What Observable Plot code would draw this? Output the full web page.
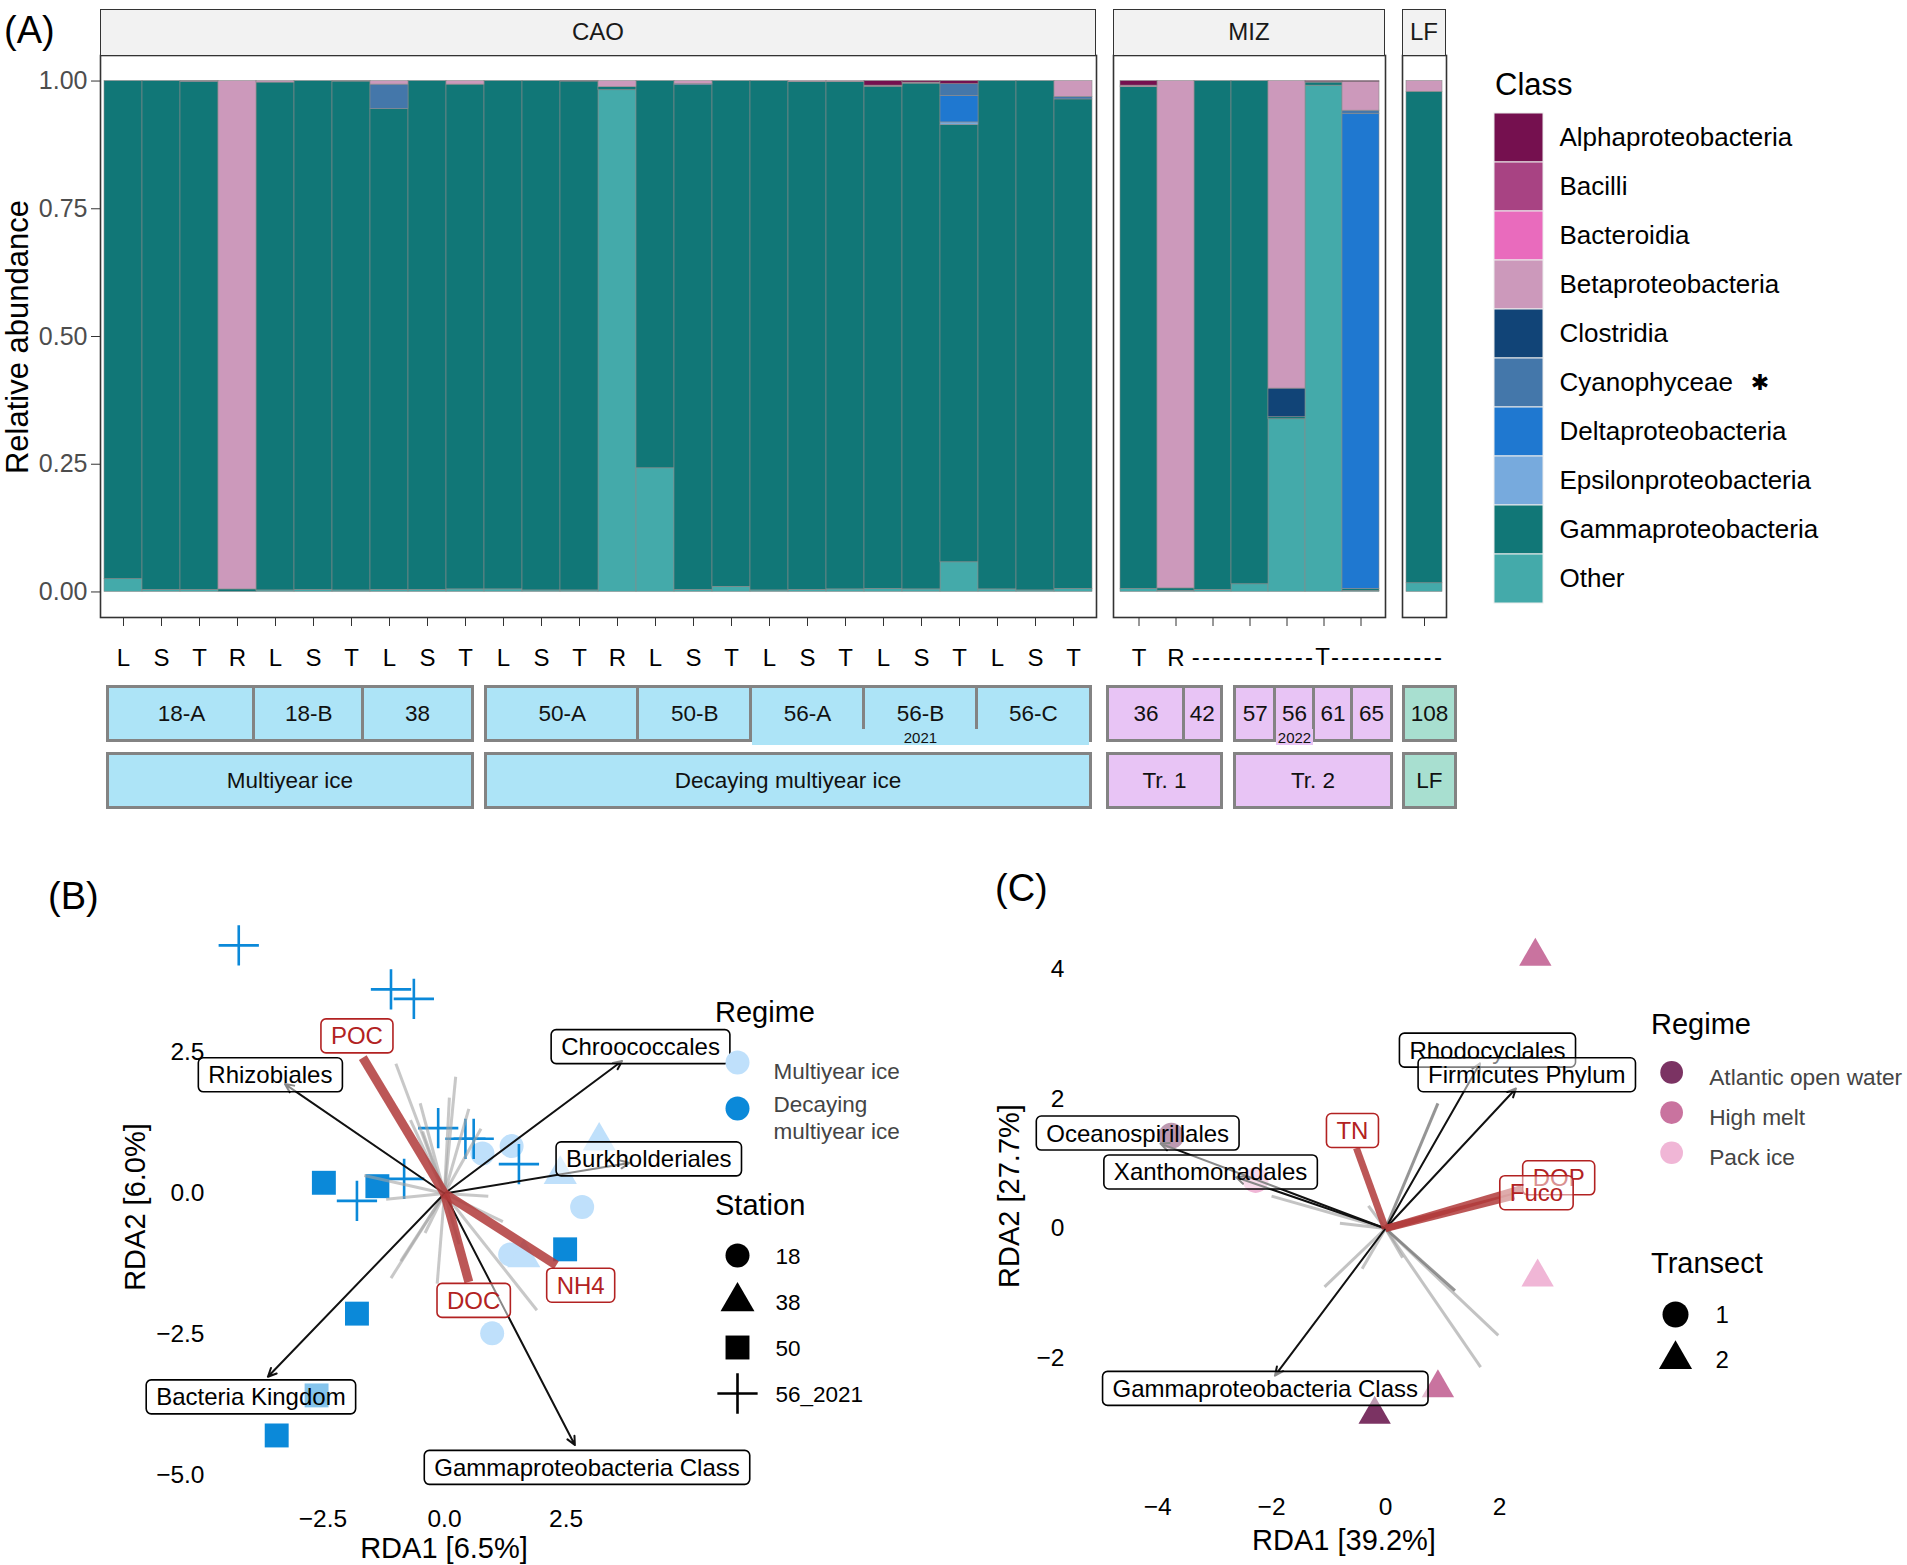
<!DOCTYPE html>
<html>
<head>
<meta charset="utf-8">
<script src="https://cdn.jsdelivr.net/npm/d3@7"></script>
<script src="https://cdn.jsdelivr.net/npm/@observablehq/plot@0.6"></script>
<style>
html,body{margin:0;padding:0;background:#fff;}
#root{position:relative;width:1907px;height:1565px;overflow:hidden;background:#fff;font-family:"Liberation Sans",Arial,Helvetica,sans-serif;color:#000;}
.t{position:absolute;white-space:pre;line-height:1;}
.strip{position:absolute;box-sizing:border-box;background:#f2f2f2;border:1.6px solid #333;display:flex;align-items:center;justify-content:center;font-size:24px;color:#1a1a1a;}
.grp{position:absolute;box-sizing:border-box;border:3px solid #838383;}
.cell{position:absolute;top:0;bottom:0;box-sizing:border-box;display:flex;align-items:center;justify-content:center;font-size:22.5px;color:#111;}
.yr{position:absolute;display:flex;align-items:center;justify-content:center;font-size:15px;color:#111;}
</style>
</head>
<body>
<div id="root"></div>
<script>
// ---------------- DATA ----------------
const classes = ["Alphaproteobacteria","Bacilli","Bacteroidia","Betaproteobacteria","Clostridia","Cyanophyceae","Deltaproteobacteria","Epsilonproteobacteria","Gammaproteobacteria","Other"];
const classColors = ["#75104f","#a84383","#e96bbd","#cc99bb","#114477","#4477aa","#1f78d0","#77aadd","#117777","#44aaaa"];

const caoSamples = ["18-A_L","18-A_S","18-A_T","18-A_R","18-B_L","18-B_S","18-B_T","38_L","38_S","38_T","50-A_L","50-A_S","50-A_T","50-A_R","50-B_L","50-B_S","50-B_T","56-A_L","56-A_S","56-A_T","56-B_L","56-B_S","56-B_T","56-C_L","56-C_S","56-C_T"];
const mizSamples = ["36_T","36_R","42_T","57_T","56_T","61_T","65_T"];
const lfSamples = ["108_T"];

const caoOther   = [0.025,0.004,0.004,0,0.003,0.004,0.003,0.004,0.004,0.005,0.005,0.003,0.003,0.982,0.242,0.004,0.010,0.003,0.004,0.005,0.006,0.005,0.058,0.005,0.003,0.006];
const caoGamma   = [0.975,0.996,0.994,0.005,0.994,0.996,0.996,0.941,0.996,0.988,0.995,0.997,0.996,0.006,0.758,0.988,0.990,0.997,0.994,0.993,0.983,0.990,0.856,0.995,0.997,0.958];
const caoEpsilon = [0,0,0,0,0,0,0,0,0,0,0,0,0,0,0,0,0,0,0,0,0,0,0.005,0,0,0];
const caoDelta   = [0,0,0,0,0,0,0,0,0,0,0,0,0,0,0,0.002,0,0,0,0,0,0,0.052,0,0,0];
const caoCyano   = [0,0,0.001,0,0,0,0,0.048,0,0,0,0,0,0,0,0,0,0,0,0,0,0,0.023,0,0,0.005];
const caoBeta    = [0,0,0.001,0.995,0.003,0,0.001,0.007,0,0.007,0,0,0,0.012,0,0.006,0,0,0.002,0.002,0.002,0.002,0,0,0,0.031];
const caoAlpha   = [0,0,0,0,0,0,0,0,0,0,0,0,0.001,0,0,0,0,0,0,0,0.009,0.003,0.006,0,0,0];

const mizOther      = [0.006,0.002,0.004,0.015,0.338,0.991,0.002];
const mizGamma      = [0.982,0.005,0.996,0.985,0.004,0.006,0.004];
const mizDelta      = [0,0,0,0,0,0,0.930];
const mizCyano      = [0,0,0,0,0,0,0.006];
const mizClostridia = [0,0,0,0,0.056,0,0];
const mizBeta       = [0.003,0.993,0,0,0.602,0.001,0.056];
const mizAlpha      = [0.009,0,0,0,0,0.002,0.002];

const lfOther = [0.017];
const lfGamma = [0.962];
const lfBeta  = [0.021];

const yTicksA = [0, 0.25, 0.5, 0.75, 1];

const stationLabels = ["18-A","18-B","38","50-A","50-B","56-A","56-B","56-C","36","42","57","56","61","65","108"];
const stationBars   = [4,3,3,4,3,3,3,3,2,1,1,1,1,1,1];
const stationRegime = ["Multiyear ice","Multiyear ice","Multiyear ice","Decaying multiyear ice","Decaying multiyear ice","Decaying multiyear ice","Decaying multiyear ice","Decaying multiyear ice","Tr. 1","Tr. 1","Tr. 2","Tr. 2","Tr. 2","Tr. 2","LF"];
const stationYear   = ["","","","","","2021","2021","2021","","","","2022","","",""];
const regimeLabels  = ["Multiyear ice","Decaying multiyear ice","Tr. 1","Tr. 2","LF"];

// Panel B
const bRegimes = ["Multiyear ice","Decaying multiyear ice"];
const bStations = ["18","38","50","56_2021"];
const bPtX = [-4.23,-1.10,-0.63,-0.13,0.43,0.60,1.53,-0.83,-1.80, -2.48,-1.38,2.48,-1.80,-2.63,-3.45, 0.78,1.38,2.83,1.35,0.98, 3.18,2.38,1.63];
const bPtY = [4.40,3.62,3.45,1.16,0.97,0.97,0.52,0.26,-0.13, 0.19,0.13,-0.99,-2.13,-3.58,-4.29, 0.71,0.84,-0.24,-1.08,-2.48, 0.93,0.34,-1.14];
const bPtStation = ["56_2021","56_2021","56_2021","56_2021","56_2021","56_2021","56_2021","56_2021","56_2021","50","50","50","50","50","50","18","18","18","18","18","38","38","38"];
const bPtRegime = ["Decaying multiyear ice","Decaying multiyear ice","Decaying multiyear ice","Decaying multiyear ice","Decaying multiyear ice","Decaying multiyear ice","Decaying multiyear ice","Decaying multiyear ice","Decaying multiyear ice","Decaying multiyear ice","Decaying multiyear ice","Decaying multiyear ice","Decaying multiyear ice","Decaying multiyear ice","Decaying multiyear ice","Multiyear ice","Multiyear ice","Multiyear ice","Multiyear ice","Multiyear ice","Multiyear ice","Multiyear ice","Multiyear ice"];
const bSpName = ["Rhizobiales","Chroococcales","Burkholderiales","Bacteria Kingdom","Gammaproteobacteria Class"];
const bSpTipX = [-3.28, 3.65, 3.80, -3.63, 2.68];
const bSpTipY = [1.94, 2.35, 0.54, -3.25, -4.46];
const bSpLabX = [-3.58, 4.03, 4.20, -3.98, 2.93];
const bSpLabY = [2.09, 2.59, 0.60, -3.62, -4.87];
const bEnvName = ["POC","DOC","NH4"];
const bEnvTipX = [-1.68, 0.50, 2.30];
const bEnvTipY = [2.41, -1.57, -1.27];
const bEnvLabX = [-1.80, 0.60, 2.80];
const bEnvLabY = [2.78, -1.91, -1.64];
const bGrayX = [-1.00,0.23,0.10,-0.50,0.75,-1.65,0.90,-1.10,-0.15,1.90,-0.90,-0.45,0.50,-1.20,0.30,1.20,-0.40,-0.70];
const bGrayY = [2.30,2.07,1.70,1.60,1.15,0.32,-0.05,-1.50,-1.60,-2.07,-1.20,1.10,1.50,-0.10,-0.90,-0.50,-0.70,1.30];
const bXTicks = [-2.5, 0, 2.5];
const bYTicks = [-5, -2.5, 0, 2.5];

// Panel C
const cRegimes = ["Atlantic open water","High melt","Pack ice"];
const cTransects = ["1","2"];
const cPtX = [2.63, 2.67, 0.92, -0.19, -3.76, -2.28];
const cPtY = [4.20, -0.75, -2.46, -2.87, 1.43, 0.75];
const cPtTransect = ["2","2","2","2","1","1"];
const cPtRegime = ["High melt","Pack ice","High melt","Atlantic open water","Atlantic open water","Pack ice"];
const cSpName = ["Oceanospirillales","Xanthomonadales","Rhodocyclales","Firmicutes Phylum","Gammaproteobacteria Class"];
const cSpTipX = [-3.95, -2.62, 1.66, 2.29, -1.94];
const cSpTipY = [1.31, 0.79, 2.55, 2.16, -2.27];
const cSpLabX = [-4.35, -3.07, 1.79, 2.48, -2.11];
const cSpLabY = [1.46, 0.86, 2.74, 2.36, -2.48];
const cEnvName = ["TN","DOP","Fuco"];
const cEnvTipX = [-0.51, 2.40, 2.26];
const cEnvTipY = [1.24, 0.62, 0.50];
const cEnvLabX = [-0.58, 3.04, 2.65];
const cEnvLabY = [1.50, 0.77, 0.54];
const cGrayX = [-0.80,-0.41,-1.07,1.67,1.98,0.30,-0.30,-2.00];
const cGrayY = [0.08,-0.62,-0.90,-2.14,-1.65,-0.45,0.35,0.50];
const cDarkX = [0.92, 1.22];
const cDarkY = [1.93, -0.96];
const cXTicks = [-4, -2, 0, 2];
const cYTicks = [-2, 0, 2, 4];

// ---------------- STYLE / LAYOUT ----------------
const FONT = '"Liberation Sans", Arial, Helvetica, sans-serif';
const plotStyle = {fontFamily: FONT, fontSize: "24px", background: "transparent", overflow: "visible", color: "#333"};
const stackOrder = classes.slice().reverse();
const regimeFill = {"Multiyear ice": "#ade4f7", "Decaying multiyear ice": "#ade4f7", "Tr. 1": "#e8c4f5", "Tr. 2": "#e8c4f5", "LF": "#a8dfd0"};
const groupAdjust = {"Multiyear ice": [2, -10], "Decaying multiyear ice": [0, 0], "Tr. 1": [-14, -8], "Tr. 2": [2, 14], "LF": [-4, 15]};
const bColors = ["#bfe0fb", "#0b89d9"];
const cColors = ["#7b3363", "#c9739f", "#f0b6d6"];
const PLUS_R = 13;

const root = document.getElementById("root");
function place(node, left, top) {
  const w = document.createElement("div");
  w.style.position = "absolute"; w.style.left = left + "px"; w.style.top = top + "px";
  w.appendChild(node); root.appendChild(w); return w;
}
function textBase(str, left, baseline, size, opts = {}) {
  const d = document.createElement("div"); d.className = "t"; d.textContent = str;
  d.style.left = left + "px"; d.style.top = (baseline - 0.8465 * size) + "px"; d.style.fontSize = size + "px";
  if (opts.color) d.style.color = opts.color;
  root.appendChild(d); return d;
}
function textCenter(str, cx, cy, size, opts = {}) {
  const d = document.createElement("div"); d.className = "t"; d.textContent = str;
  d.style.left = cx + "px"; d.style.top = cy + "px"; d.style.fontSize = size + "px";
  d.style.transform = "translate(-50%,-50%)" + (opts.rotate ? ` rotate(${opts.rotate}deg)` : "");
  if (opts.color) d.style.color = opts.color;
  if (opts.family) d.style.fontFamily = opts.family;
  if (opts.spacing) d.style.letterSpacing = opts.spacing + "px";
  root.appendChild(d); return d;
}

function longRows(samples, series) {
  const out = [];
  for (const [cls, vals] of series) vals.forEach((v, i) => { if (v > 0) out.push({sample: samples[i], cls, value: v}); });
  return out;
}
const caoRows = longRows(caoSamples, [["Other", caoOther], ["Gammaproteobacteria", caoGamma], ["Epsilonproteobacteria", caoEpsilon], ["Deltaproteobacteria", caoDelta], ["Cyanophyceae", caoCyano], ["Betaproteobacteria", caoBeta], ["Alphaproteobacteria", caoAlpha]]);
const mizRows = longRows(mizSamples, [["Other", mizOther], ["Gammaproteobacteria", mizGamma], ["Deltaproteobacteria", mizDelta], ["Cyanophyceae", mizCyano], ["Clostridia", mizClostridia], ["Betaproteobacteria", mizBeta], ["Alphaproteobacteria", mizAlpha]]);
const lfRows = longRows(lfSamples, [["Other", lfOther], ["Gammaproteobacteria", lfGamma], ["Betaproteobacteria", lfBeta]]);

// ---------------- PANEL A ----------------
function facetChart(samples, rows, plotWidth, showY, tickLabel) {
  const ml = showY ? 100 : 0;
  return Plot.plot({
    width: plotWidth + ml, height: 640,
    marginLeft: ml, marginRight: 0, marginTop: 0, marginBottom: 78,
    style: plotStyle,
    x: {type: "band", domain: samples, paddingInner: 0, paddingOuter: 0.1},
    y: {domain: [-0.05, 1.05], axis: showY ? undefined : null},
    color: {domain: classes, range: classColors},
    marks: [
      Plot.barY(rows, Plot.stackY({x: "sample", y: "value", fill: "cls", order: stackOrder, stroke: "#8a8a8a", strokeWidth: 0.6})),
      Plot.frame({stroke: "#333", strokeWidth: 1.6}),
      showY ? Plot.axisY({ticks: yTicksA, tickFormat: d3.format(".2f"), tickSize: 9, tickPadding: 4, fontSize: 25, fill: "#4d4d4d", stroke: "#333", label: null}) : null,
      Plot.axisX({tickSize: 9, tickPadding: 22, tickFormat: tickLabel, fontSize: 24, fill: "#000", stroke: "#333", label: null})
    ]
  });
}
const caoChart = facetChart(caoSamples, caoRows, 996, true, d => d.split("_")[1]);
const mizChart = facetChart(mizSamples, mizRows, 272, false, d => (mizSamples.indexOf(d) < 2 ? d.split("_")[1] : ""));
const lfChart = facetChart(lfSamples, lfRows, 44, false, () => "");
const facets = [
  {samples: caoSamples, chart: caoChart, left: 0},
  {samples: mizSamples, chart: mizChart, left: 1113},
  {samples: lfSamples, chart: lfChart, left: 1402}
];
facets.forEach(f => place(f.chart, f.left, 55));

function strip(label, left, right) {
  const d = document.createElement("div"); d.className = "strip"; d.textContent = label;
  d.style.left = left + "px"; d.style.top = "8.5px"; d.style.width = (right - left) + "px"; d.style.height = "47px";
  root.appendChild(d);
}
strip("CAO", 100, 1096); strip("MIZ", 1113, 1385); strip("LF", 1402, 1446);

textBase("(A)", 4, 43.5, 38);
textCenter("Relative abundance", 17, 337, 31, {rotate: -90});

// legend A
textBase("Class", 1495, 95.5, 31);
const legendA = Plot.plot({
  width: 413, height: 492, margin: 0, style: plotStyle,
  x: {type: "band", domain: ["k"], range: [0, 49], padding: 0, axis: null},
  y: {type: "band", domain: classes, range: [0, 492], padding: 0, axis: null},
  color: {domain: classes, range: classColors},
  marks: [
    Plot.cell(classes, {x: () => "k", y: d => d, fill: d => d, stroke: "#ececec", strokeWidth: 1}),
    Plot.text(classes, {x: () => "k", y: d => d, text: d => d, dx: 40.5, textAnchor: "start", fontSize: 26, fill: "#000"})
  ]
});
place(legendA, 1494, 112);
textCenter("\u2731", 1760, 112 + 492 / 10 * 5.5, 22, {family: "DejaVu Sans"});

// annotation rows under panel A
function barExtent(sample) {
  for (const f of facets) {
    if (f.samples.includes(sample)) {
      const sc = f.chart.scale("x");
      const x0 = f.left + sc.apply(sample);
      return [x0, x0 + sc.bandwidth];
    }
  }
}
const allSamples = [...caoSamples, ...mizSamples, ...lfSamples];
let kk = 0;
const stations = stationLabels.map((lab, i) => {
  const s = allSamples.slice(kk, kk + stationBars[i]); kk += stationBars[i];
  return {lab, n: stationBars[i], regime: stationRegime[i], year: stationYear[i], x0: barExtent(s[0])[0], x1: barExtent(s[s.length - 1])[1]};
});
regimeLabels.forEach(r => {
  const ss = stations.filter(d => d.regime === r);
  const [a, b] = groupAdjust[r];
  const x0 = d3.min(ss, d => d.x0) + a, x1 = d3.max(ss, d => d.x1) + b;
  const g = document.createElement("div"); g.className = "grp";
  g.style.left = x0 + "px"; g.style.top = "685px"; g.style.width = (x1 - x0) + "px"; g.style.height = "57px";
  g.style.background = regimeFill[r];
  root.appendChild(g);
  const innerW = x1 - x0 - 6;
  const total = d3.sum(ss, d => d.n);
  let cum = 0;
  const pos = [];
  ss.forEach((s, i) => {
    const c = document.createElement("div"); c.className = "cell"; c.textContent = s.lab;
    const l = cum / total * innerW, w = s.n / total * innerW;
    pos.push([l, l + w]);
    c.style.left = (i ? l - 1.5 : l) + "px"; c.style.width = (i ? w + 1.5 : w) + "px";
    if (i) c.style.borderLeft = "3px solid #838383";
    g.appendChild(c);
    cum += s.n;
  });
  let i = 0;
  while (i < ss.length) {
    if (ss[i].year) {
      let j = i; while (j + 1 < ss.length && ss[j + 1].year === ss[i].year) j++;
      const p = document.createElement("div"); p.className = "yr"; p.textContent = ss[i].year;
      const l = pos[i][0] + (i ? 1.5 : 0), rr = pos[j][1];
      p.style.left = l + "px"; p.style.width = (rr - l) + "px"; p.style.top = "41px"; p.style.height = "16px";
      p.style.background = regimeFill[r];
      g.appendChild(p);
      i = j + 1;
    } else i++;
  }
  const g2 = document.createElement("div"); g2.className = "grp";
  g2.style.left = x0 + "px"; g2.style.top = "752px"; g2.style.width = (x1 - x0) + "px"; g2.style.height = "57px";
  g2.style.background = regimeFill[r];
  const c2 = document.createElement("div"); c2.className = "cell"; c2.style.left = "0"; c2.style.right = "0"; c2.textContent = r;
  g2.appendChild(c2);
  root.appendChild(g2);
});
{
  const a = barExtent(mizSamples[2])[0], b = barExtent(lfSamples[0])[1];
  textCenter("------------T-----------", (a + b) / 2, 657, 24, {spacing: 2.3});
}

// ---------------- label boxes helper ----------------
function boxLabels(svg, names, stroke) {
  const texts = Array.from(svg.querySelectorAll("text")).filter(t => names.includes(t.textContent) && !t.closest('g[aria-label$="axis"]'));
  texts.forEach(t => {
    const b = t.getBBox();
    const r = document.createElementNS("http://www.w3.org/2000/svg", "rect");
    r.setAttribute("x", b.x - 10); r.setAttribute("y", b.y - 3.5);
    r.setAttribute("width", b.width + 20); r.setAttribute("height", b.height + 7);
    r.setAttribute("rx", 5); r.setAttribute("ry", 5);
    r.setAttribute("fill", "#ffffff"); r.setAttribute("fill-opacity", 0.5);
    r.setAttribute("stroke", stroke); r.setAttribute("stroke-width", 1.6);
    const tr = t.getAttribute("transform"); if (tr) r.setAttribute("transform", tr);
    t.parentNode.insertBefore(r, t);
  });
}
function zipPts(xs, ys, extra) { return xs.map((x, i) => Object.assign({x, y: ys[i]}, extra ? extra(i) : {})); }

// ---------------- PANEL B ----------------
const bPts = zipPts(bPtX, bPtY, i => ({station: bPtStation[i], regime: bPtRegime[i]}));
const bSp = bSpName.map((name, i) => ({name, tx: bSpTipX[i], ty: bSpTipY[i], lx: bSpLabX[i], ly: bSpLabY[i]}));
const bEnv = bEnvName.map((name, i) => ({name, tx: bEnvTipX[i], ty: bEnvTipY[i], lx: bEnvLabX[i], ly: bEnvLabY[i]}));
const bGray = zipPts(bGrayX, bGrayY);
const bUx = 48.64, bUy = 56.4, bX0 = 444, bY0 = 343;
const bChart = Plot.plot({
  width: 940, height: 715, marginLeft: 207, marginRight: 0, marginTop: 0, marginBottom: 59,
  style: plotStyle,
  x: {domain: [-6, 6], range: [bX0 - 6 * bUx, bX0 + 6 * bUx]},
  y: {domain: [-6, 6], range: [bY0 + 6 * bUy, bY0 - 6 * bUy]},
  color: {domain: bRegimes, range: bColors},
  marks: [
    Plot.dot(bPts.filter(d => d.station === "18"), {x: "x", y: "y", fill: "regime", r: 12, symbol: "circle"}),
    Plot.dot(bPts.filter(d => d.station === "38"), {x: "x", y: "y", fill: "regime", r: 12.3, symbol: "triangle"}),
    Plot.dot(bPts.filter(d => d.station === "50"), {x: "x", y: "y", fill: "regime", r: 13.5, symbol: "square"}),
    Plot.dot(bPts.filter(d => d.station === "56_2021"), {x: "x", y: "y", stroke: "regime", fill: "none", r: PLUS_R, symbol: "plus", strokeWidth: 2.6}),
    Plot.link(bGray, {x1: 0, y1: 0, x2: "x", y2: "y", stroke: "#a3a3a3", strokeOpacity: 0.6, strokeWidth: 3}),
    Plot.arrow(bSp, {x1: 0, y1: 0, x2: "tx", y2: "ty", stroke: "#111", strokeWidth: 2, headLength: 7, headAngle: 50}),
    Plot.link(bEnv, {x1: 0, y1: 0, x2: "tx", y2: "ty", stroke: "#b03a3a", strokeOpacity: 0.85, strokeWidth: 9}),
    Plot.text(bSp, {x: "lx", y: "ly", text: "name", fontSize: 24, fill: "#000"}),
    Plot.text(bEnv, {x: "lx", y: "ly", text: "name", fontSize: 24, fill: "#b22222"}),
    Plot.axisX({ticks: bXTicks, tickFormat: d3.format(".1f"), tickSize: 0, tickPadding: 3, fontSize: 24.5, fill: "#000", label: null}),
    Plot.axisY({ticks: bYTicks, tickFormat: d3.format(".1f"), tickSize: 0, tickPadding: 3, fontSize: 24.5, fill: "#000", label: null})
  ]
});
place(bChart, 0, 850);
boxLabels(bChart, bSpName, "#000");
boxLabels(bChart, bEnvName, "#b22222");
textBase("(B)", 48, 909.6, 38);
textCenter("RDA1 [6.5%]", 444, 1548, 29);
textCenter("RDA2 [6.0%]", 135, 1207, 29, {rotate: -90});

// ---------------- PANEL C ----------------
const cPts = zipPts(cPtX, cPtY, i => ({transect: cPtTransect[i], regime: cPtRegime[i]}));
const cSp = cSpName.map((name, i) => ({name, tx: cSpTipX[i], ty: cSpTipY[i], lx: cSpLabX[i], ly: cSpLabY[i]}));
const cEnv = cEnvName.map((name, i) => ({name, tx: cEnvTipX[i], ty: cEnvTipY[i], lx: cEnvLabX[i], ly: cEnvLabY[i]}));
const cGray = zipPts(cGrayX, cGrayY);
const cDark = zipPts(cDarkX, cDarkY);
const cUx = 56.97, cUy = 64.8, cX0 = 425, cY0 = 378;
const cChart = Plot.plot({
  width: 947, height: 715, marginLeft: 107, marginRight: 0, marginTop: 0, marginBottom: 71,
  style: plotStyle,
  x: {domain: [-6, 6], range: [cX0 - 6 * cUx, cX0 + 6 * cUx]},
  y: {domain: [-6, 6], range: [cY0 + 6 * cUy, cY0 - 6 * cUy]},
  color: {domain: cRegimes, range: cColors},
  marks: [
    Plot.dot(cPts.filter(d => d.transect === "1"), {x: "x", y: "y", fill: "regime", r: 13, symbol: "circle"}),
    Plot.dot(cPts.filter(d => d.transect === "2"), {x: "x", y: "y", fill: "regime", r: 12, symbol: "triangle"}),
    Plot.link(cGray, {x1: 0, y1: 0, x2: "x", y2: "y", stroke: "#a3a3a3", strokeOpacity: 0.65, strokeWidth: 3}),
    Plot.link(cDark, {x1: 0, y1: 0, x2: "x", y2: "y", stroke: "#7a7a7a", strokeOpacity: 0.8, strokeWidth: 3}),
    Plot.arrow(cSp, {x1: 0, y1: 0, x2: "tx", y2: "ty", stroke: "#111", strokeWidth: 2, headLength: 7, headAngle: 50}),
    Plot.link(cEnv, {x1: 0, y1: 0, x2: "tx", y2: "ty", stroke: "#b03a3a", strokeOpacity: 0.85, strokeWidth: 7}),
    Plot.text(cSp, {x: "lx", y: "ly", text: "name", fontSize: 24, fill: "#000"}),
    Plot.text(cEnv, {x: "lx", y: "ly", text: "name", fontSize: 24, fill: "#b22222"}),
    Plot.axisX({ticks: cXTicks, tickFormat: d3.format("d"), tickSize: 0, tickPadding: 3, fontSize: 24.5, fill: "#000", label: null}),
    Plot.axisY({ticks: cYTicks, tickFormat: d3.format("d"), tickSize: 0, tickPadding: 3, fontSize: 24.5, fill: "#000", label: null})
  ]
});
place(cChart, 960, 850);
boxLabels(cChart, cSpName, "#000");
boxLabels(cChart, cEnvName, "#b22222");
textBase("(C)", 995, 901, 38);
textCenter("RDA1 [39.2%]", 1344, 1540, 29);
textCenter("RDA2 [27.7%]", 1009, 1196, 29, {rotate: -90});

// ---------------- LEGENDS B / C ----------------
function keyPlot(labels, step, marks, width = 320) {
  const n = labels.length;
  return Plot.plot({
    width, height: n * step, margin: 0, style: plotStyle,
    x: {domain: [0, 1], range: [30, width], axis: null},
    y: {type: "point", domain: labels, range: [step / 2, step / 2 + (n - 1) * step], padding: 0, axis: null},
    marks
  });
}
const K = {x: () => 0, y: d => d};
textBase("Regime", 715, 1022.4, 29);
place(keyPlot(bRegimes, 46, [
  Plot.dot(bRegimes, {...K, r: 12, fill: (d, i) => bColors[i]}),
  Plot.text(bRegimes, {...K, text: d => d.replace("Decaying ", "Decaying\n"), dx: 36, dy: 8, lineHeight: 1.22, textAnchor: "start", fontSize: 22.5, fill: "#444"})
], 250), 707, 1039);
textBase("Station", 715, 1215.4, 29);
place(keyPlot(bStations, 46.5, [
  Plot.dot(["18"], {...K, r: 12, symbol: "circle", fill: "#000"}),
  Plot.dot(["38"], {...K, r: 12.6, symbol: "triangle", fill: "#000"}),
  Plot.dot(["50"], {...K, r: 13.5, symbol: "square", fill: "#000"}),
  Plot.dot(["56_2021"], {...K, r: PLUS_R, symbol: "plus", fill: "none", stroke: "#000", strokeWidth: 2.6}),
  Plot.text(bStations, {...K, text: d => d, dx: 38, dy: 1, textAnchor: "start", fontSize: 22.5, fill: "#000"})
], 250), 707, 1230.75);
textBase("Regime", 1651, 1034.4, 29);
place(keyPlot(cRegimes, 46.5, [
  Plot.dot(cRegimes, {...K, r: 13, fill: (d, i) => cColors[i]}),
  Plot.text(cRegimes, {...K, text: d => d, dx: 43, dy: 6, textAnchor: "start", fontSize: 26, fill: "#444"})
], 300), 1645, 1050.75);
textBase("Transect", 1651, 1273.4, 29);
place(keyPlot(cTransects, 45, [
  Plot.dot(["1"], {...K, r: 13, symbol: "circle", fill: "#000"}),
  Plot.dot(["2"], {...K, r: 12.3, symbol: "triangle", fill: "#000"}),
  Plot.text(cTransects, {...K, text: d => d, dx: 40, dy: 1, textAnchor: "start", fontSize: 24, fill: "#000"})
], 250), 1645, 1290.5);
</script>
</body>
</html>
